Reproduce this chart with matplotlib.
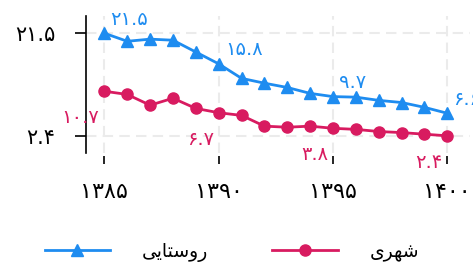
import matplotlib
matplotlib.use('Agg')
import matplotlib.pyplot as plt
from matplotlib.lines import Line2D

# data
years = [1385, 1386, 1387, 1388, 1389, 1390, 1391, 1392, 1393, 1394, 1395, 1396, 1397, 1398, 1399, 1400]
rural = [21.5, 20.0, 20.4, 20.2, 18.0, 15.8, 13.1, 12.2, 11.4, 10.3, 9.7, 9.6, 9.0, 8.6, 7.7, 6.6]
urban = [10.7, 10.1, 8.1, 9.4, 7.5, 6.7, 6.2, 4.2, 4.0, 4.2, 3.8, 3.6, 3.2, 3.0, 2.7, 2.4]
label_years = [1385, 1390, 1395, 1400]
y_ticks = [2.4, 21.5]

# legend names, pre-shaped (presentation forms, visual order) since matplotlib has no bidi
rural_name = '\uFBFD\uFBFE\uFE8E\uFE98\uFEB3\uFEED\uFEAD'  # روستایی
urban_name = '\uFBFC\uFEAE\uFEEC\uFEB7'  # شهری

BLUE = '#1e8cf0'
RED = '#d81b60'

FA = str.maketrans('0123456789', '۰۱۲۳۴۵۶۷۸۹')
def fa(v):
    return str(v).translate(FA)

plt.rcParams['font.family'] = ['DejaVu Sans']

fig = plt.figure(figsize=(4.73, 2.72), dpi=100)
ax = fig.add_axes([0.182, 0.4375, 0.812, 0.5035])

ax.plot(years, rural, color=BLUE, marker='^', markersize=8, linewidth=2, label=rural_name, clip_on=False, zorder=3)
ax.plot(years, urban, color=RED, marker='o', markersize=8, linewidth=2, label=urban_name, clip_on=False, zorder=3)

# value labels
for yr in label_years:
    i = years.index(yr)
    ax.annotate(fa(rural[i]), (yr, rural[i]), xytext=(4.5, 10), textcoords='offset points',
                ha='left', va='center', color=BLUE, fontsize=14, annotation_clip=False)
    ax.annotate(fa(urban[i]), (yr, urban[i]), xytext=(-3.5, -19), textcoords='offset points',
                ha='right', va='center', color=RED, fontsize=14, annotation_clip=False)

ax.set_xlim(1384.2, 1401)
ax.set_ylim(-0.8, 24.7)
ax.set_xticks(label_years)
ax.set_xticklabels([fa(y) for y in label_years])
ax.set_yticks(y_ticks)
ax.set_yticklabels([fa(y) for y in y_ticks])

ax.grid(True, color='#ebebeb', linestyle=(0, (5, 3)), linewidth=1.5)
ax.set_axisbelow(True)

for s in ['top', 'right', 'bottom']:
    ax.spines[s].set_visible(False)
ax.spines['left'].set_linewidth(1.2)
ax.tick_params(axis='x', length=6, width=1.2, pad=13, labelsize=16)
ax.tick_params(axis='y', length=8, width=1.2, pad=14, labelsize=15)
ax.spines['bottom'].set_position(('outward', 2))

handles = [Line2D([], [], color=BLUE, marker='^', markersize=8, linewidth=2),
           Line2D([], [], color=RED, marker='o', markersize=8, linewidth=2)]
fig.legend(handles, [rural_name, urban_name], loc='center', bbox_to_anchor=(0.49, 0.074), ncol=2,
           frameon=False, fontsize=13.5, handlelength=3.5, handletextpad=1.7, columnspacing=3.4)

fig.savefig('out.png', dpi=100)
